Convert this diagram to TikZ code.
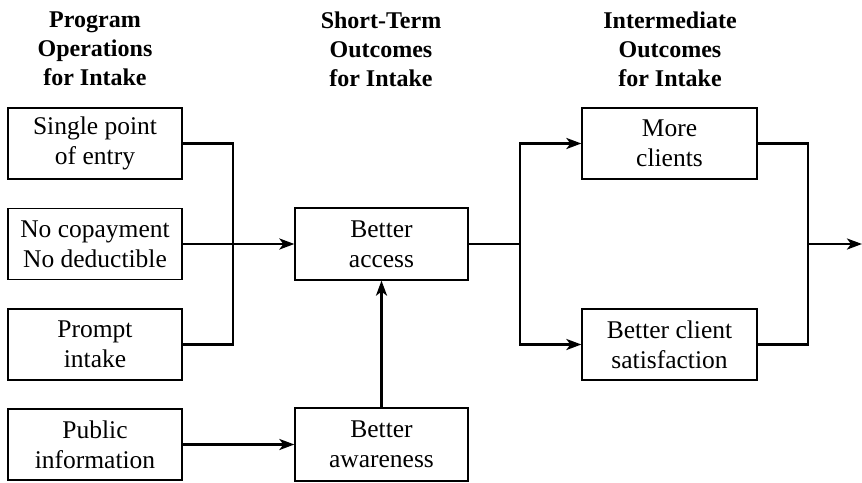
\documentclass[tikz,border=0pt]{standalone}
\usepackage{fontspec}
\setmainfont{Liberation Serif}
\usetikzlibrary{arrows.meta}

\tikzset{
  box/.style={draw, line width=1.3pt, align=center, inner sep=0pt,
    minimum width=174pt, minimum height=71pt,
    font=\fontsize{25.5}{30}\selectfont},
  header/.style={align=center, inner sep=0pt,
    font=\fontsize{24}{29}\selectfont\bfseries},
  link/.style={line width=2.6pt, line join=miter},
  flow/.style={link, -{Stealth[length=15pt,width=11pt,inset=4pt]}}
}

\begin{document}
\begin{tikzpicture}[x=1pt,y=-1pt]
  \useasboundingbox (0,0) rectangle (862,482);

  % column headings
  \node[header] (h1) at (95,49) {Program\\Operations\\for Intake};
  \node[header] (h2) at (381,49) {Short-Term\\Outcomes\\for Intake};
  \node[header] (h3) at (670,49) {Intermediate\\Outcomes\\for Intake};

  % program operations
  \node[box] (entry) at (95,143.5) {Single point\\of entry};
  \node[box] (copay) at (95,244) {No copayment\\No deductible};
  \node[box] (prompt) at (95,344.5) {Prompt\\intake};
  \node[box] (public) at (95,444.5) {Public\\information};

  % short-term outcomes
  \node[box, minimum width=173pt, minimum height=72pt] (access) at (381.5,244) {Better\\access};
  \node[box, minimum width=173pt, minimum height=73pt] (aware) at (381.5,444.5) {Better\\awareness};

  % intermediate outcomes
  \node[box, minimum width=175pt] (clients) at (669.5,143.5) {More\\clients};
  \node[box, minimum width=175pt] (satis) at (669.5,344.5) {Better client\\satisfaction};

  % junction points
  \coordinate (busL) at (233,244);
  \coordinate (split) at (520,244);
  \coordinate (busR) at (808,244);
  \coordinate (out) at (862,244);

  % operations into access
  \draw[link] (entry.east) -- (entry.east -| busL) -- (prompt.east -| busL) -- (prompt.east);
  \draw[flow] (copay.east) -- (access.west);
  \draw[flow] (public.east) -- (aware.west);
  \draw[flow] (aware.north) -- (access.south);

  % access into intermediate outcomes
  \draw[link] (access.east) -- (split);
  \draw[flow] (split) |- (clients.west);
  \draw[flow] (split) |- (satis.west);

  % intermediate outcomes onward
  \draw[link] (clients.east) -- (clients.east -| busR) -- (satis.east -| busR) -- (satis.east);
  \draw[flow] (busR) -- (out);
\end{tikzpicture}
\end{document}
